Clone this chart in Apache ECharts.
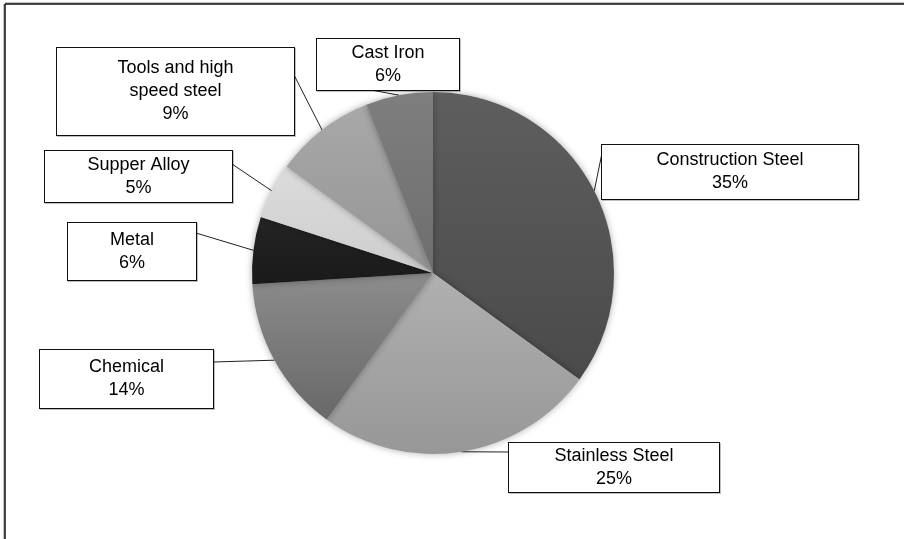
<!DOCTYPE html>
<html>
<head>
<meta charset="utf-8">
<script src="https://cdn.jsdelivr.net/npm/echarts@6/dist/echarts.min.js"></script>
<style>
  html, body { margin: 0; padding: 0; background: #fff; }
  #pie-chart { width: 904px; height: 539px; }
</style>
</head>
<body>
<div id="pie-chart"></div>
<script>
// data, clockwise from 12 o'clock
const categories = ['Construction Steel', 'Stainless Steel', 'Chemical', 'Metal', 'Supper Alloy', 'Tools and high\nspeed steel', 'Cast Iron']
const shares = [35, 25, 14, 6, 5, 9, 6]

// slice shades (top, bottom of a soft vertical gradient)
const shades = [
  ['#5e5e5e', '#4a4a4a'],
  ['#b0b0b0', '#979797'],
  ['#8c8c8c', '#686868'],
  ['#242424', '#1a1a1a'],
  ['#dcdcdc', '#cdcdcd'],
  ['#a8a8a8', '#959595'],
  ['#7e7e7e', '#6e6e6e']
]

// callout boxes: left, top, width, height, and where the leader meets the box
const boxes = [
  { left: 602, top: 145, w: 256, h: 54, attach: [602, 153] },
  { left: 509, top: 443, w: 210, h: 49, attach: [509, 452] },
  { left: 40, top: 350, w: 173, h: 58, attach: [213, 362] },
  { left: 68, top: 223, w: 128, h: 57, attach: [196, 233] },
  { left: 45, top: 151, w: 187, h: 51, attach: [232, 164] },
  { left: 57, top: 48, w: 237, h: 87, attach: [294, 75] },
  { left: 317, top: 39, w: 142, h: 51, attach: [371, 90] }
]

const LINE_H = 23

const chart = echarts.init(document.getElementById('pie-chart'))

const seriesData = categories.map((name, i) => {
  const lines = name.split('\n').length + 1
  const pad = (boxes[i].h - lines * LINE_H) / 2
  return {
    name: name,
    value: shares[i],
    itemStyle: {
      color: new echarts.graphic.LinearGradient(0, 0, 0, 1, [
        { offset: 0, color: shades[i][0] },
        { offset: 1, color: shades[i][1] }
      ])
    },
    label: {
      width: boxes[i].w,
      padding: [pad, 0, pad, 0]
    }
  }
})

chart.setOption({
  animation: false,
  backgroundColor: '#fff',
  graphic: [
    // page frame (top and left edges only)
    { type: 'line', shape: { x1: 5, y1: 4, x2: 904, y2: 4 }, style: { stroke: '#111', lineWidth: 1.5, shadowColor: 'rgba(0,0,0,0.35)', shadowBlur: 1, shadowOffsetY: -1 } },
    { type: 'line', shape: { x1: 5, y1: 4, x2: 5, y2: 539 }, style: { stroke: '#111', lineWidth: 1.5, shadowColor: 'rgba(0,0,0,0.35)', shadowBlur: 1, shadowOffsetX: -1 } }
  ],
  series: [
    {
      type: 'pie',
      center: [433, 273],
      radius: 181,
      startAngle: 90,
      clockwise: true,
      avoidLabelOverlap: false,
      itemStyle: {
        shadowBlur: 7,
        shadowColor: 'rgba(0,0,0,0.32)'
      },
      label: {
        show: true,
        position: 'outside',
        formatter: p => p.name + '\n' + p.value + '%',
        fontFamily: 'Liberation Sans, Arial, sans-serif',
        fontSize: 18,
        lineHeight: LINE_H,
        color: '#000',
        align: 'center',
        backgroundColor: '#fff',
        borderColor: '#111',
        borderWidth: 1,
        shadowColor: 'rgba(0,0,0,0.25)',
        shadowOffsetX: 1,
        shadowOffsetY: 1
      },
      labelLine: {
        show: true,
        length: 10,
        length2: 10,
        lineStyle: { color: '#222', width: 1 }
      },
      labelLayout: function (params) {
        const b = boxes[params.dataIndex]
        const edge = params.labelLinePoints ? params.labelLinePoints[0] : b.attach
        return {
          x: b.left + b.w / 2,
          y: b.top,
          align: 'center',
          verticalAlign: 'top',
          labelLinePoints: [edge, b.attach]
        }
      },
      emphasis: { disabled: true },
      data: seriesData
    }
  ]
})
</script>
</body>
</html>
